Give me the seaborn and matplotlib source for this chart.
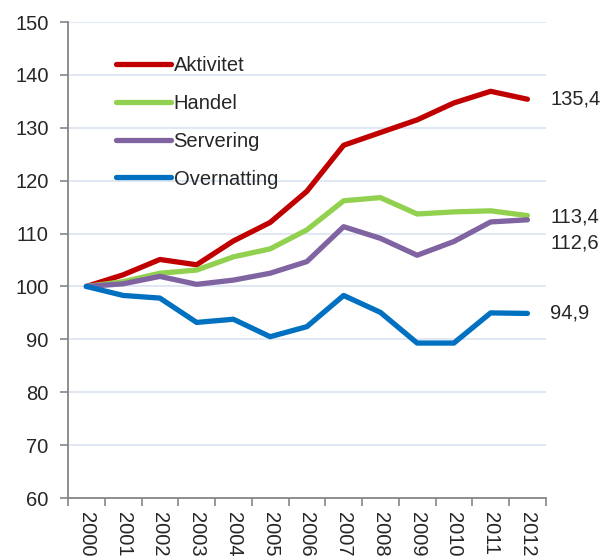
import pandas as pd
import matplotlib
matplotlib.use("Agg")
import matplotlib.pyplot as plt
import seaborn as sns

# ------------------------------------------------------------
# Data (index, 2000 = 100)
# ------------------------------------------------------------
years = ["2000", "2001", "2002", "2003", "2004", "2005", "2006",
         "2007", "2008", "2009", "2010", "2011", "2012"]

aktivitet = [100, 102.2, 105.1, 104.1, 108.6, 112.1, 118.0,
             126.7, 129.1, 131.5, 134.7, 136.9, 135.4]
handel = [100, 100.9, 102.5, 103.1, 105.6, 107.1, 110.7,
          116.2, 116.8, 113.7, 114.1, 114.3, 113.4]
servering = [100, 100.5, 101.9, 100.4, 101.2, 102.5, 104.7,
             111.3, 109.1, 105.9, 108.5, 112.2, 112.6]
overnatting = [100, 98.3, 97.8, 93.2, 93.8, 90.5, 92.4,
               98.3, 95.1, 89.3, 89.3, 95.0, 94.9]

series_names = ["Aktivitet", "Handel", "Servering", "Overnatting"]
end_labels = ["135,4", "113,4", "112,6", "94,9"]

colors = ["#C00000", "#92D050", "#8064A2", "#0070C0"]

# long format for seaborn
df = pd.DataFrame({
    "pos": list(range(len(years))) * 4,
    "value": aktivitet + handel + servering + overnatting,
    "serie": sum([[n] * len(years) for n in series_names], []),
})

# ------------------------------------------------------------
# Plot
# ------------------------------------------------------------
sns.set_style("white")
plt.rcParams["font.family"] = ["Liberation Sans", "DejaVu Sans"]
fs = 14.5

fig = plt.figure(figsize=(6.16, 5.56), dpi=100)
ax = fig.add_axes([0.1104, 0.1043, 0.7756, 0.8561])

sns.lineplot(data=df, x="pos", y="value", hue="serie", hue_order=series_names,
             palette=colors, linewidth=3.8, ax=ax, zorder=3)

ax.set_xlim(-0.5, len(years) - 0.5)
ax.set_ylim(60, 150)
ax.set_yticks(range(60, 151, 10))
ax.yaxis.grid(True, color="#DCE6F2", linewidth=1.3)
ax.set_axisbelow(True)

ax.set_xticks(range(len(years)))
ax.set_xticklabels(years, rotation=-90, va="top", ha="center")
ax.set_xticks([i - 0.5 for i in range(len(years) + 1)], minor=True)
ax.tick_params(axis="x", which="major", length=0, pad=10, labelsize=fs)
ax.tick_params(axis="x", which="minor", length=6, width=1.2, color="#868686",
               direction="out", bottom=True)
ax.tick_params(axis="y", length=6, width=1.2, color="#868686",
               direction="out", left=True, labelsize=fs, pad=8)
ax.set_xlabel("")
ax.set_ylabel("")

for side in ["top", "right"]:
    ax.spines[side].set_visible(False)
for side in ["left", "bottom"]:
    ax.spines[side].set_color("#868686")
    ax.spines[side].set_linewidth(1.3)

# end-of-line value labels
label_shift = [0, -1, -17, 0]  # points, to keep labels apart
all_series = [aktivitet, handel, servering, overnatting]
for vals, txt, dy in zip(all_series, end_labels, label_shift):
    ax.annotate(txt, xy=(len(years) - 1, vals[-1]), xytext=(16.5, dy),
                textcoords="offset points", va="center", ha="left",
                fontsize=fs, annotation_clip=False)

leg = ax.legend(loc="upper left", bbox_to_anchor=(0.062, 0.966), frameon=False,
                fontsize=fs, handlelength=2.75, handletextpad=0.12,
                labelspacing=0.93)
for line in leg.get_lines():
    line.set_linewidth(3.8)

fig.savefig("out.png", dpi=100)
